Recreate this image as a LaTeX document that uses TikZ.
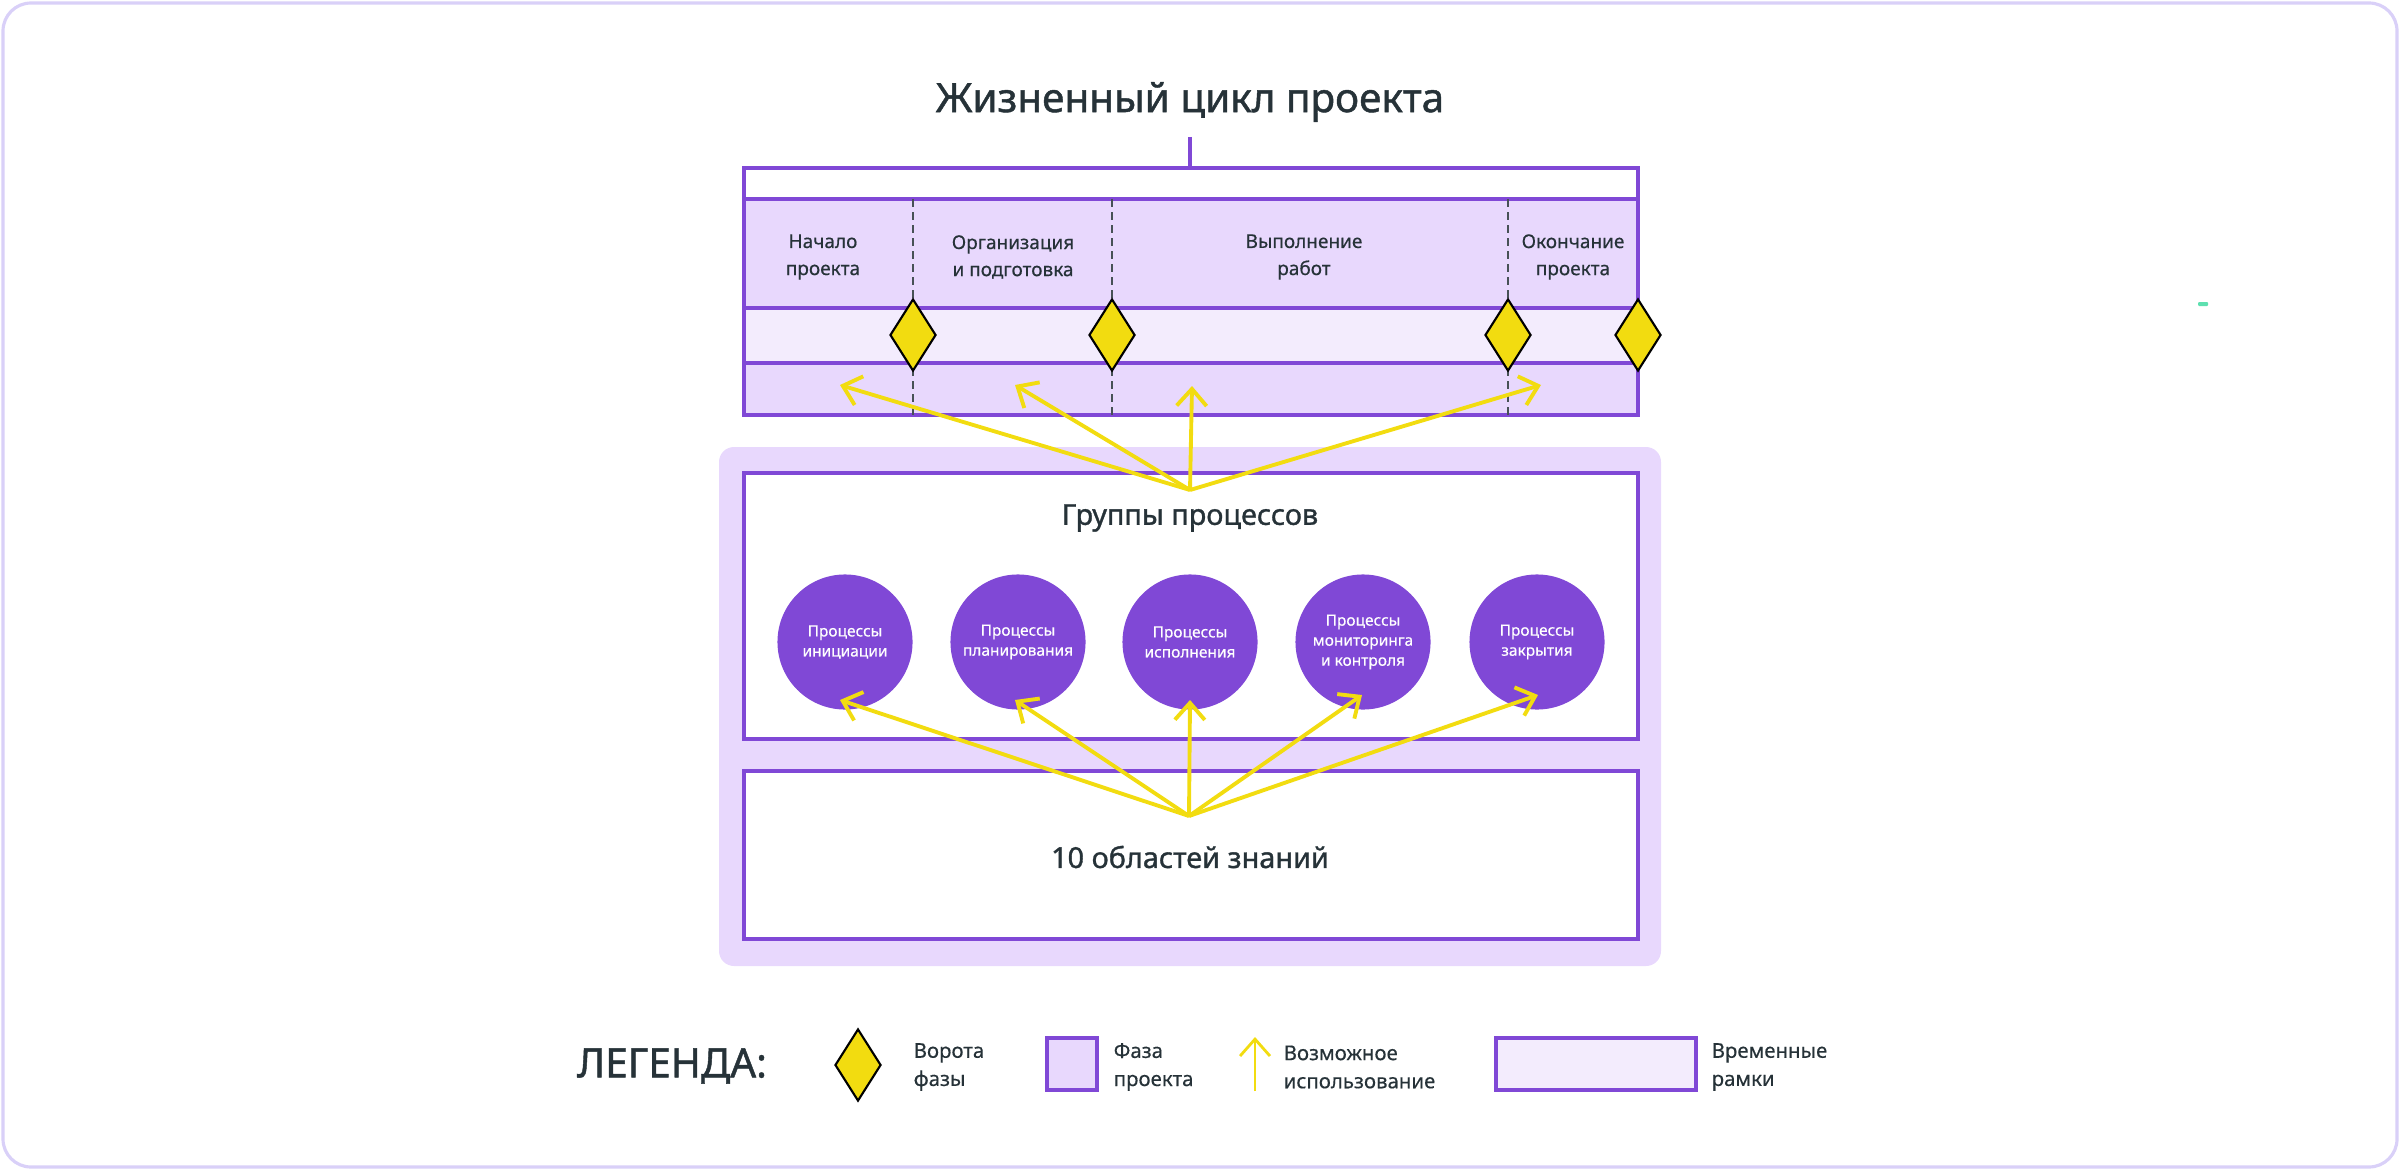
\documentclass[tikz,border=0pt]{standalone}
\usepackage{fontspec}
\setmainfont{Noto Sans}
\newfontfamily\headfont{Noto Sans}[FakeBold=1.1]
\newfontfamily\labelfont{Noto Sans}[FakeBold=0.4]
\usetikzlibrary{arrows.meta,shapes.geometric}
\definecolor{lilac}{HTML}{8048D6}
\definecolor{phasefill}{HTML}{E8D8FD}
\definecolor{framefill}{HTML}{F3ECFD}
\definecolor{gateyellow}{HTML}{F2DC10}
\definecolor{ink}{HTML}{263238}
\definecolor{edgeline}{HTML}{D9D0F8}
\definecolor{mint}{HTML}{5EE0B0}

\begin{document}
\begin{tikzpicture}[x=0.01cm,y=-0.01cm,
    phaselabel/.style={text=ink,font=\labelfont\fontsize{5.4}{7.7}\selectfont,align=center},
    gate/.style={diamond,draw=black,line width=0.6pt,fill=gateyellow,minimum width=0.46cm,minimum height=0.72cm,inner sep=0pt},
    proc/.style={circle,fill=lilac,minimum size=1.35cm,inner sep=0pt,text=white,font=\labelfont\fontsize{4.4}{5.7}\selectfont,align=center},
    usage/.style={draw=gateyellow,line width=1.1pt,-{Straight Barb[length=4.8pt,width=8.5pt]}},
    band/.style={draw=lilac,line width=1.1pt},
    heading/.style={text=ink,font=\headfont\fontsize{#1}{14}\selectfont},
    legtext/.style={anchor=west,inner sep=0pt,text=ink,font=\labelfont\fontsize{5.8}{8}\selectfont,align=left},
    gatedash/.style={draw=ink!85,line width=0.55pt,dash pattern=on 0.08cm off 0.05cm}]
    \useasboundingbox (0,0) rectangle (2400,1170);
    \draw[edgeline,line width=0.9pt,rounded corners=0.28cm] (3,3) rectangle (2397,1167);
    \fill[mint,rounded corners=0.01cm] (2198,302) rectangle (2208,306);

    \node[heading=11.5] (title) at (1190,102) {Жизненный цикл проекта};
    \coordinate (stub) at (1190,137);
    \coordinate (frametop) at (1190,168);
    \draw[band] (stub) -- (frametop);

    \draw[band,fill=white] (744,168) rectangle (1638,199);
    \draw[band,fill=phasefill] (744,199) rectangle (1638,308);
    \draw[band,fill=framefill] (744,308) rectangle (1638,363);
    \draw[band,fill=phasefill] (744,363) rectangle (1638,415);
    \foreach \x in {913,1112,1508}
        \draw[gatedash] (\x,199) -- (\x,415);
    \node[gate] (g1) at (913,335) {};
    \node[gate] (g2) at (1112,335) {};
    \node[gate] (g3) at (1508,335) {};
    \node[gate] (g4) at (1638,335) {};

    \node[phaselabel] (start) at (823,257) {Начало\\проекта};
    \node[phaselabel] (prep) at (1013,257) {Организация\\и подготовка};
    \node[phaselabel] (work) at (1304,257) {Выполнение\\работ};
    \node[phaselabel] (close) at (1573,257) {Окончание\\проекта};

    \fill[phasefill,rounded corners=0.15cm] (719,447) rectangle (1661,966);
    \draw[band,fill=white] (744,473) rectangle (1638,739);
    \draw[band,fill=white] (744,771) rectangle (1638,939);
    \node[heading=8.2] (groups) at (1190,518) {Группы процессов};
    \node[heading=8.2] (areas) at (1190,857) {10 областей знаний};

    \node[proc] (init) at (845,642) {Процессы\\инициации};
    \node[proc] (plan) at (1018,642) {Процессы\\планирования};
    \node[proc] (exec) at (1190,642) {Процессы\\исполнения};
    \node[proc] (monit) at (1363,642) {Процессы\\мониторинга\\и контроля};
    \node[proc] (fin) at (1537,642) {Процессы\\закрытия};

    \coordinate (hubtop) at (1190,490);
    \coordinate (u1) at (840,385);
    \coordinate (u2) at (1015,385);
    \coordinate (u3) at (1192,386);
    \coordinate (u4) at (1541,385);
    \foreach \t in {u1,u2,u3,u4}
        \draw[usage] (hubtop) -- (\t);

    \coordinate (hubbot) at (1189,816);
    \coordinate (v1) at (840,700);
    \coordinate (v2) at (1015,700);
    \coordinate (v3) at (1190,700);
    \coordinate (v4) at (1362,695);
    \coordinate (v5) at (1538,695);
    \foreach \t in {v1,v2,v3,v4,v5}
        \draw[usage] (hubbot) -- (\t);

    \node[heading=11.5] (legend) at (672,1066) {ЛЕГЕНДА:};
    \node[gate] (leggate) at (858,1065) {};
    \node[legtext] (leggatetext) at (913,1067) {Ворота\\фазы};
    \node[band,fill=phasefill,minimum width=0.5cm,minimum height=0.52cm,inner sep=0pt] (legphase) at (1072,1064) {};
    \node[legtext] (legphasetext) at (1113,1067) {Фаза\\проекта};
    \coordinate (arrbot) at (1255,1091);
    \coordinate (arrtop) at (1255,1037);
    \draw[usage,line width=0.8pt] (arrbot) -- (arrtop);
    \node[legtext] (legusetext) at (1283,1067) {Возможное\\использование};
    \node[band,fill=framefill,minimum width=2.0cm,minimum height=0.52cm,inner sep=0pt] (legframe) at (1596,1064) {};
    \node[legtext] (legframetext) at (1711,1067) {Временные\\рамки};
\end{tikzpicture}
\end{document}
